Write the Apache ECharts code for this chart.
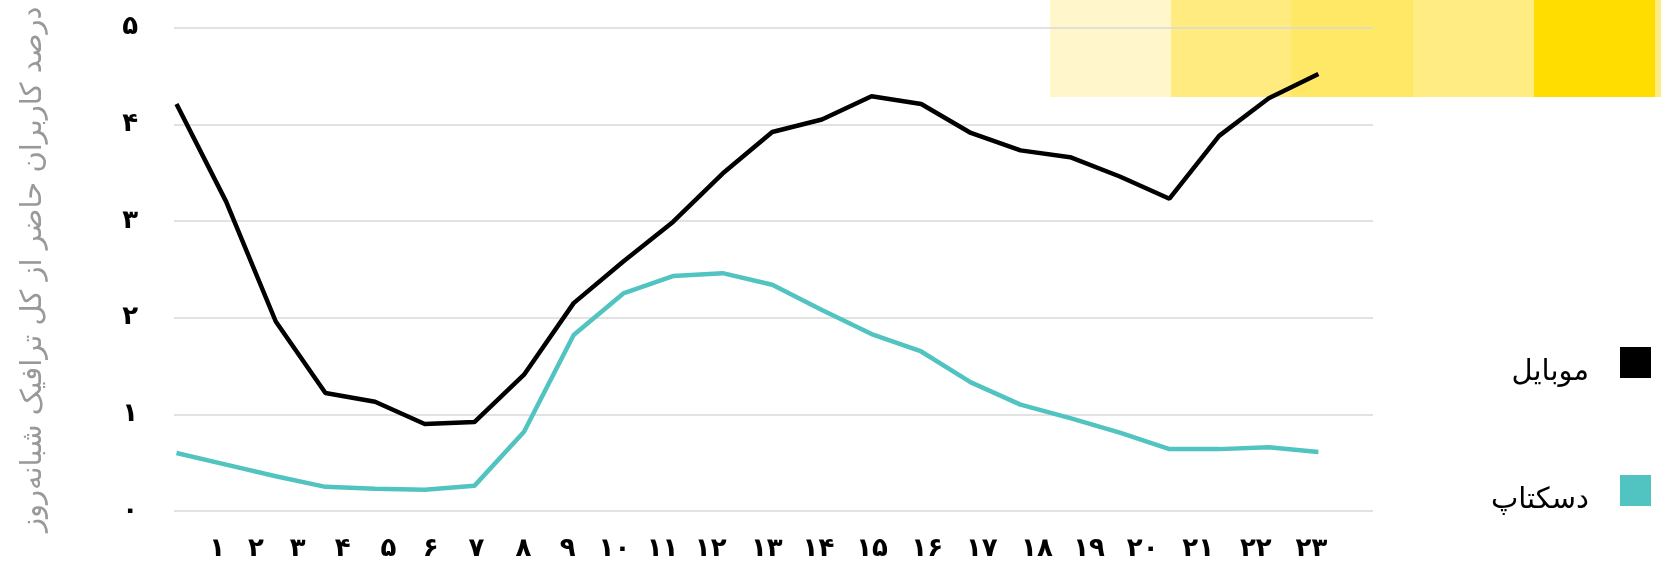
<!DOCTYPE html>
<html>
<head>
<meta charset="utf-8">
<script src="https://cdn.jsdelivr.net/npm/echarts@6/dist/echarts.min.js"></script>
<style>
html,body{margin:0;padding:0;background:#fff;}
#c{width:1661px;height:563px;}
</style>
</head>
<body>
<div id="c"></div>
<script>
// hours 0..23
var hours = [0,1,2,3,4,5,6,7,8,9,10,11,12,13,14,15,16,17,18,19,20,21,22,23];
var mobile = [4.21,3.20,1.96,1.22,1.13,0.90,0.92,1.41,2.15,2.58,2.99,3.49,3.92,4.05,4.29,4.21,3.91,3.73,3.66,3.46,3.23,3.88,4.27,4.52];
var desktop = [0.60,0.48,0.36,0.25,0.23,0.22,0.26,0.82,1.82,2.25,2.43,2.46,2.34,2.08,1.83,1.65,1.33,1.10,0.96,0.81,0.64,0.64,0.66,0.61];
var xLabels = ['۱','۲','۳','۴','۵','۶','۷','۸','۹','۱۰','۱۱','۱۲','۱۳','۱۴','۱۵','۱۶','۱۷','۱۸','۱۹','۲۰','۲۱','۲۲','۲۳'];
var xLabelPos = [0.82,1.60,2.44,3.35,4.27,5.12,6.04,6.99,7.88,8.82,9.79,10.76,11.89,12.93,14.01,15.12,16.22,17.33,18.38,19.46,20.58,21.74,22.86];
var yLabels = ['۰','۱','۲','۳','۴','۵'];
var seriesNames = ['موبایل','دسکتاپ'];
var yTitle = 'درصد کاربران حاضر از کل ترافیک شبانه‌روز';
var bandColors = ['#FFF6CC','#FFEB80','#FFE866','#FFEC82','#FFDD00','#FFEB80'];

var FONT = 'DejaVu Sans';
var chart = echarts.init(document.getElementById('c'), null, {renderer:'canvas'});

function pairs(arr){ return hours.map(function(h,i){ return [h, arr[i]]; }); }

var bandX = [1050,1171,1291,1413,1534,1655];
var bandW = [121,120,122,121,121,6];
var graphics = bandX.map(function(x,i){
  return {type:'rect', left:x, top:0, z:-10, shape:{width:bandW[i], height:97}, style:{fill:bandColors[i]}};
});

chart.setOption({
  animation:false,
  textStyle:{fontFamily:FONT},
  graphic: graphics,
  grid:{left:174, right:288, top:27.6, bottom:52, containLabel:false},
  legend:{
    orient:'vertical', right:5, top:342, align:'right', icon:'rect',
    itemWidth:31, itemHeight:31, itemGap:88,
    data:seriesNames,
    formatter:'{t|{name}}',
    textStyle:{fontFamily:FONT, fontSize:29, color:'#000',
      rich:{t:{fontFamily:FONT, fontSize:29, color:'#000', padding:[20,26,0,0]}}}
  },
  xAxis:[
    {type:'value', min:-0.05, max:24.1, show:false},
    {type:'value', min:-0.05, max:24.1, position:'bottom',
      axisLine:{show:false}, axisTick:{show:false}, splitLine:{show:false},
      axisLabel:{show:true, customValues:xLabelPos, margin:25, fontSize:26, fontWeight:'bold', color:'#000', fontFamily:FONT,
        formatter:function(v){ var i = xLabelPos.indexOf(v); if(i<0){ for(var k=0;k<xLabelPos.length;k++){ if(Math.abs(xLabelPos[k]-v)<1e-6){i=k;break;} } } return i>=0 ? xLabels[i] : ''; }}
    }
  ],
  yAxis:{
    type:'value', min:0, max:5, interval:1,
    name:yTitle, nameLocation:'middle', nameGap:126, nameRotate:90,
    nameTextStyle:{fontFamily:FONT, fontSize:29, color:'#999'},
    axisLine:{show:false}, axisTick:{show:false},
    axisLabel:{margin:36, fontSize:26, fontWeight:'bold', color:'#000', fontFamily:FONT,
      formatter:function(v){ return yLabels[Math.round(v)]; }},
    splitLine:{lineStyle:{color:'#d8d8d8', width:1.5}}
  },
  series:[
    {name:seriesNames[0], type:'line', xAxisIndex:0, data:pairs(mobile), showSymbol:false, symbol:'none',
      lineStyle:{color:'#000', width:4.5}, itemStyle:{color:'#000'}},
    {name:seriesNames[1], type:'line', xAxisIndex:0, data:pairs(desktop), showSymbol:false, symbol:'none',
      lineStyle:{color:'#51C4C1', width:4.5}, itemStyle:{color:'#51C4C1'}}
  ]
});
</script>
</body>
</html>
